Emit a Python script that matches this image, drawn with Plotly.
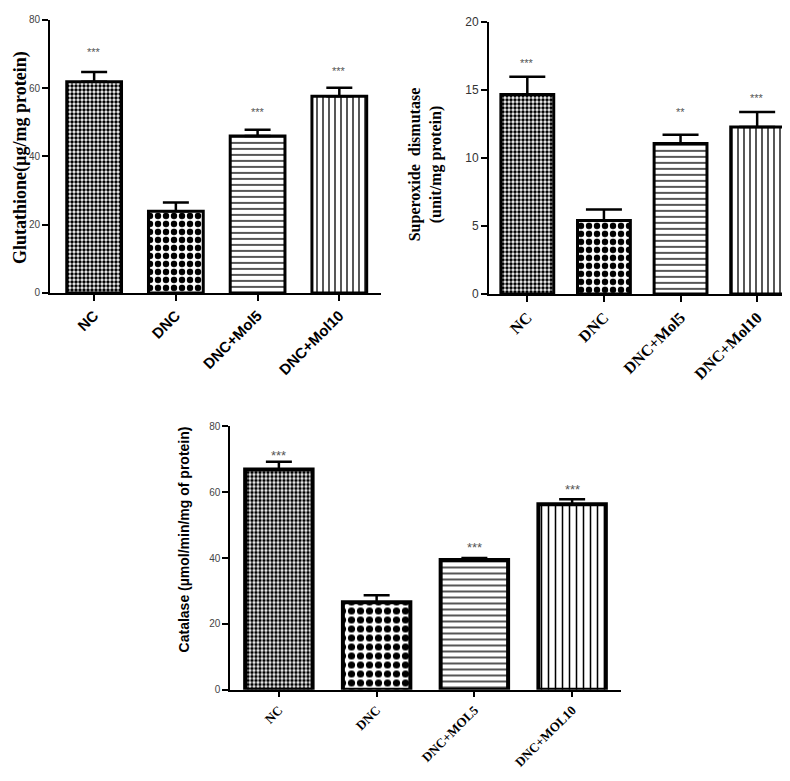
import plotly.graph_objects as go

# ---------------- data ----------------
groups_a = ["NC", "DNC", "DNC+Mol5", "DNC+Mol10"]
gsh_mean = [61.9, 23.9, 46.0, 57.6]
gsh_sem = [2.8, 2.6, 1.8, 2.5]
gsh_sig = ["***", "", "***", "***"]
gsh_sig_y = [70.5, 0, 53.0, 65.0]

groups_b = ["NC", "DNC", "DNC+Mol5", "DNC+Mol10"]
sod_mean = [14.66, 5.4, 11.05, 12.27]
sod_sem = [1.3, 0.8, 0.65, 1.1]
sod_sig = ["***", "", "**", "***"]
sod_sig_y = [17.0, 0, 13.4, 14.4]

groups_c = ["NC", "DNC", "DNC+MOL5", "DNC+MOL10"]
cat_mean = [66.9, 26.6, 39.4, 56.4]
cat_sem = [2.4, 2.1, 0.6, 1.5]
cat_sig = ["***", "", "***", "***"]
cat_sig_y = [71.3, 0, 43.3, 60.9]

shapes_pat = [".", ".", "-", "|"]
pat_solid = [0.6, 0.5, 0.22, 0.22]

W, H = 790, 781

def px_x(p):
    return p / W

def px_y(p):
    return 1 - p / H

fig = go.Figure()

def add_panel(cats, means, sems, xa, ya, width, lw, capw, sizes):
    fig.add_trace(go.Bar(
        x=cats, y=means, xaxis=xa, yaxis=ya, width=width,
        marker=dict(
            color="white",
            line=dict(color="black", width=lw),
            pattern=dict(shape=shapes_pat, fgcolor="black", bgcolor="white",
                         fgopacity=1, size=sizes, solidity=pat_solid,
                         fillmode="replace"),
        ),
        error_y=dict(type="data", symmetric=False, array=sems,
                     arrayminus=[0] * len(sems), color="black",
                     thickness=2.5, width=capw),
        showlegend=False,
    ))

add_panel(groups_a, gsh_mean, gsh_sem, "x", "y", 0.67, 3, 13, [4, 8, 6, 6])
add_panel(groups_b, sod_mean, sod_sem, "x2", "y2", 0.69, 3, 18, [4, 8, 6, 6])
add_panel(groups_c, cat_mean, cat_sem, "x3", "y3", 0.69, 4, 13, [4, 9, 6, 7])

axis_common = dict(showgrid=False, zeroline=False, showline=True,
                   linecolor="black", ticks="outside", ticklen=6,
                   tickcolor="black")

fig.update_layout(
    width=W, height=H, margin=dict(l=0, r=0, t=0, b=0),
    plot_bgcolor="white", paper_bgcolor="white",
    xaxis=dict(domain=[px_x(42), px_x(373)], range=[-0.54, 3.51], anchor="y",
               linewidth=2, tickwidth=2, tickangle=-45,
               tickfont=dict(family="Arial, Liberation Sans", size=15, color="black", weight="bold"),
               **axis_common),
    yaxis=dict(domain=[px_y(283), px_y(5)], range=[0, 80], anchor="x",
               tickvals=[0, 20, 40, 60, 80], linewidth=2, tickwidth=2,
               tickfont=dict(family="Arial, Liberation Sans", size=10, color="#444"),
               **axis_common),
    xaxis2=dict(domain=[px_x(481), px_x(789)], range=[-0.5, 3.52], anchor="y2",
                linewidth=2, tickwidth=2, tickangle=-45,
                tickfont=dict(family="Liberation Serif", size=16, color="black", weight="bold"),
                **axis_common),
    yaxis2=dict(domain=[px_y(284), px_y(7)], range=[0, 20], anchor="x2",
                tickvals=[0, 5, 10, 15, 20], linewidth=2, tickwidth=2,
                tickfont=dict(family="Arial, Liberation Sans", size=12, color="#333"),
                **axis_common),
    xaxis3=dict(domain=[px_x(222), px_x(613)], range=[-0.5, 3.5], anchor="y3",
                linewidth=1.5, tickwidth=1.5, tickangle=-45,
                tickfont=dict(family="Liberation Serif", size=13, color="black", weight="bold"),
                **axis_common),
    yaxis3=dict(domain=[px_y(687), px_y(419)], range=[0, 80], anchor="x3",
                tickvals=[0, 20, 40, 60, 80], linewidth=1.5, tickwidth=1.5,
                tickfont=dict(family="Arial, Liberation Sans", size=10, color="#444"),
                **axis_common),
)

ann = []
for cats, sig, sy, xr, yr, fs in [
    (groups_a, gsh_sig, gsh_sig_y, "x", "y", 11),
    (groups_b, sod_sig, sod_sig_y, "x2", "y2", 11),
    (groups_c, cat_sig, cat_sig_y, "x3", "y3", 13),
]:
    for c, s, y in zip(cats, sig, sy):
        if s:
            ann.append(dict(x=c, y=y, xref=xr, yref=yr, text=s, showarrow=False,
                            xanchor="center", yanchor="middle",
                            font=dict(family="Arial", size=fs, color="#555")))

ann.append(dict(x=0, y=px_y(145), xref="paper", yref="paper",
                xanchor="left", yanchor="middle",
                text="<b>Glutathione(µg/mg protein)</b>", textangle=-90, showarrow=False,
                font=dict(family="Liberation Serif", size=18, color="black")))
ann.append(dict(x=px_x(417), y=px_y(152), xref="paper", yref="paper",
                xanchor="center", yanchor="middle",
                text="<b>Superoxide  dismutase<br>(unit/mg protein)</b>", textangle=-90,
                showarrow=False,
                font=dict(family="Liberation Serif", size=16, color="black")))
ann.append(dict(x=px_x(176), y=px_y(534), xref="paper", yref="paper",
                xanchor="center", yanchor="middle",
                text="<b>Catalase (µmol/min/mg of protein)</b>", textangle=-90, showarrow=False,
                font=dict(family="Arial, Liberation Sans", size=14, color="black")))
fig.update_layout(annotations=ann)

fig.write_html("out.html")
